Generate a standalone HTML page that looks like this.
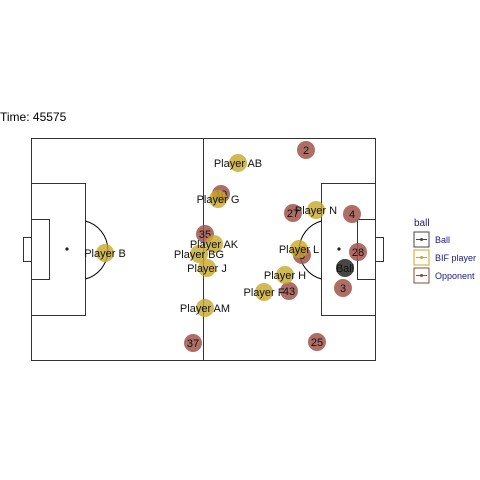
<!DOCTYPE html>
<html><head><meta charset="utf-8"><style>body{margin:0;background:#fff}svg{display:block}text{font-family:"Liberation Sans",sans-serif}</style></head>
<body>
<svg width="480" height="480" viewBox="0 0 480 480">
<rect width="480" height="480" fill="#fff"/>
<text x="0" y="121" font-size="12" fill="#000">Time: 45575</text>
<g fill="none" stroke="#333" stroke-width="1">
<rect x="31.5" y="138.5" width="344" height="222"/>
<line x1="203.5" y1="138.5" x2="203.5" y2="360.5"/>
<rect x="31.5" y="183.5" width="54" height="132"/>
<rect x="31.5" y="219.5" width="18" height="60"/>
<rect x="23.5" y="237.5" width="8" height="24"/>
<rect x="321.5" y="183.5" width="54" height="132"/>
<rect x="357.5" y="219.5" width="18" height="60"/>
<rect x="375.5" y="237.5" width="8" height="24"/>
<path d="M85.5 221 A30 30 0 0 1 85.5 279" stroke="#000"/>
<path d="M321.5 221 A30 30 0 0 0 321.5 279" stroke="#000"/>
</g>
<circle cx="67" cy="249" r="1.6" fill="#222"/>
<circle cx="339" cy="249" r="1.6" fill="#222"/>
<g id="pts"></g>
<g font-size="9">
<text x="414" y="226" font-size="10" fill="#1a1a7a">ball</text>
<rect x="414" y="232" width="15" height="15" fill="#fff" stroke="#444"/><line x1="416" y1="239.5" x2="427" y2="239.5" stroke="#444"/><circle cx="421.5" cy="239.5" r="1.5" fill="#444"/>
<text x="435" y="243" fill="#1a1a7a">Ball</text>
<rect x="414" y="250" width="15" height="15" fill="#fff" stroke="#c8a820"/><line x1="416" y1="257.5" x2="427" y2="257.5" stroke="#c8a820"/><circle cx="421.5" cy="257.5" r="1.5" fill="#c8a820"/>
<text x="435" y="261" fill="#1a1a7a">BIF player</text>
<rect x="414" y="268" width="15" height="15" fill="#fff" stroke="#8b4a3a"/><line x1="416" y1="275.5" x2="427" y2="275.5" stroke="#8b4a3a"/><circle cx="421.5" cy="275.5" r="1.5" fill="#8b4a3a"/>
<text x="435" y="279" fill="#1a1a7a">Opponent</text>
</g>
</svg>
<script>
const oppLabels=["2","10","27","4","35","8","28","43","3","37","25"];
const oppX=[306,221,293,352,205,302,358,289,343,193,317];
const oppY=[150,194,213,214,234,255,252,291,288,343,342];
const bifLabels=["Player AB","Player G","Player N","Player B","Player AK","Player BG","Player L","Player J","Player H","Player F","Player AM"];
const bifX=[238,218,316,105,214,199,299,207,285,264,205];
const bifY=[163,199,210,253,244,254,249,268,275,292,308];
const ballX=[345],ballY=[268];
const g=document.getElementById('pts');
const NS='http://www.w3.org/2000/svg';
function draw(xs,ys,labels,fill,kind){
 xs.forEach((x,i)=>{
  const c=document.createElementNS(NS,'circle');
  c.setAttribute('cx',x);c.setAttribute('cy',ys[i]);c.setAttribute('r',9);c.setAttribute('fill',fill);
  
  
  g.appendChild(c);
 });
 xs.forEach((x,i)=>{
  const t=document.createElementNS(NS,'text');
  t.setAttribute('x',x);t.setAttribute('y',ys[i]+4);t.setAttribute('text-anchor','middle');t.setAttribute('font-size','11');t.setAttribute('fill','#111');
  t.textContent=labels[i];
  
  
  g.appendChild(t);
 });
}
draw(oppX,oppY,oppLabels,'rgba(160,85,75,0.85)','opponent');
draw(bifX,bifY,bifLabels,'rgba(200,168,40,0.8)','bif-player');
draw(ballX,ballY,['Ball'],'rgba(50,50,50,0.9)','ball');
</script>
</body></html>
